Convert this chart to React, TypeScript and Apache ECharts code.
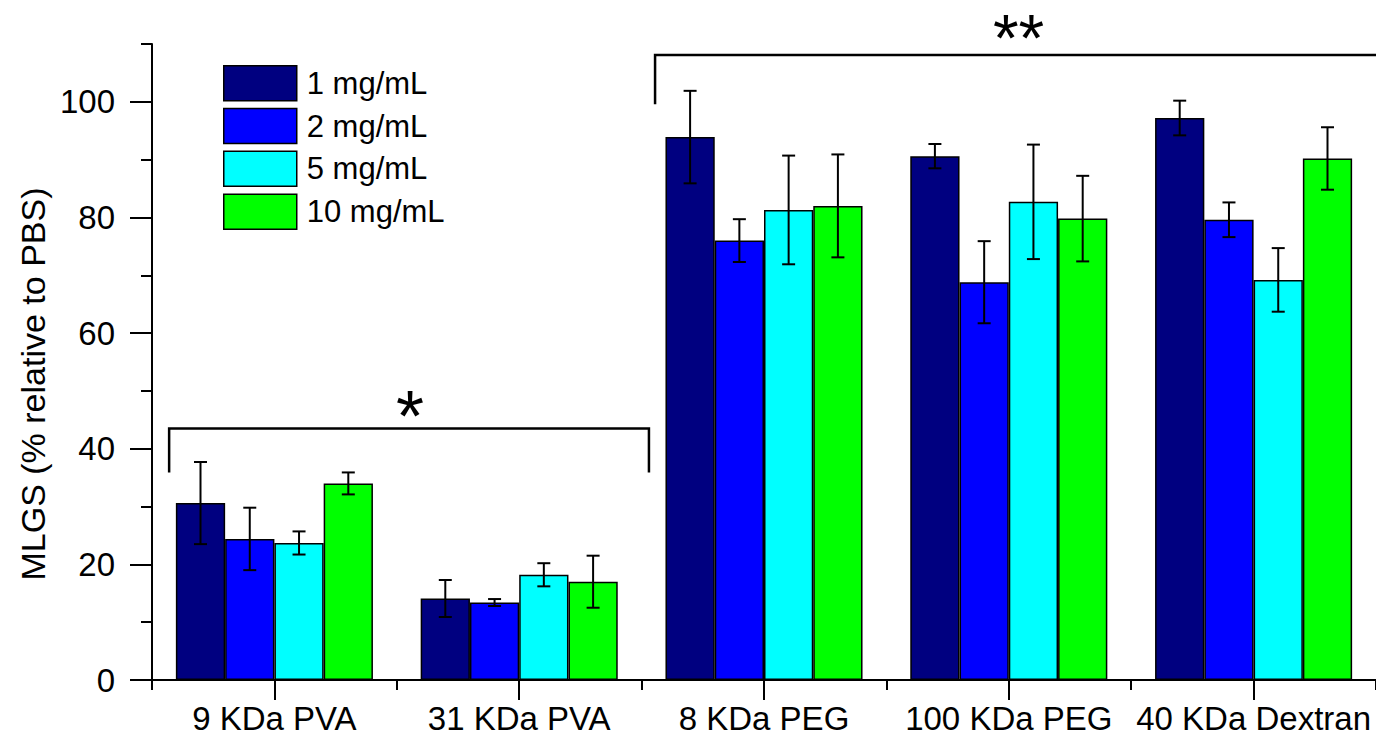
import React, { useEffect, useRef } from 'react';
import * as echarts from 'echarts';

const categories = ['9 KDa PVA', '31 KDa PVA', '8 KDa PEG', '100 KDa PEG', '40 KDa Dextran'];
const seriesNames = ['1 mg/mL', '2 mg/mL', '5 mg/mL', '10 mg/mL'];
const colors = ['#000080', '#0000FF', '#00FFFF', '#00FF00'];

const mean1 = [30.6, 14.1, 93.9, 90.6, 97.2];
const err1 = [7.1, 3.2, 8.0, 2.1, 3.0];
const mean2 = [24.4, 13.4, 76.0, 68.8, 79.6];
const err2 = [5.4, 0.6, 3.7, 7.1, 3.0];
const mean5 = [23.7, 18.2, 81.3, 82.7, 69.2];
const err5 = [2.0, 2.0, 9.4, 9.9, 5.5];
const mean10 = [34.0, 17.0, 82.0, 79.8, 90.2];
const err10 = [1.9, 4.5, 8.9, 7.4, 5.4];

const means = [mean1, mean2, mean5, mean10];
const errs = [err1, err2, err5, err10];

const yLabelValues = [0, 20, 40, 60, 80, 100];
const yMax = 110;
const yTitle = 'MLGS (% relative to PBS)';

// significance brackets: x in category units (relative to first category), y in data units
const bracketStar = { from: -0.43, to: 1.53, top: 43.5, leg: 35.9, label: '*', labelX: 0.554, labelY: 47.6, size: 72 };
const bracketDouble = { from: 1.555, to: 4.7, top: 108.1, leg: 99.6, label: '**', labelX: 3.04, labelY: 112.9, size: 66 };
const brackets = [bracketStar, bracketDouble];

const FONT = "'Liberation Sans', Arial, sans-serif";
const CAT_GAP = 0.195;

export default function App() {
  const ref = useRef<HTMLDivElement>(null);
  useEffect(() => {
    if (!ref.current) return;
    const chart = echarts.init(ref.current, null, { renderer: 'svg' });

    const barSeries = seriesNames.map((name, s) => ({
      type: 'bar',
      name,
      data: means[s],
      xAxisIndex: 0,
      yAxisIndex: 0,
      barGap: '0%',
      barCategoryGap: (CAT_GAP * 100) + '%',
      itemStyle: { color: colors[s], borderColor: '#000', borderWidth: 1.5 },
      z: 2,
    }));

    const errSeries = seriesNames.map((name, s) => ({
      type: 'custom',
      name: 'err ' + name,
      xAxisIndex: 0,
      yAxisIndex: 0,
      z: 5,
      data: means[s].map((m, i) => [i, m - errs[s][i], m + errs[s][i]]),
      encode: { x: 0, y: [1, 2] },
      renderItem: (params: any, api: any) => {
        const ci = api.value(0);
        const lo = api.value(1);
        const hi = api.value(2);
        const pLo = api.coord([ci, lo]);
        const pHi = api.coord([ci, hi]);
        const band = api.size([1, 0])[0];
        const bw = (band * (1 - CAT_GAP)) / 4;
        const x = pLo[0] + (s - 1.5) * bw;
        const cap = 6.5;
        const style = { stroke: '#000', lineWidth: 2 };
        return {
          type: 'group',
          children: [
            { type: 'line', shape: { x1: x, y1: pHi[1], x2: x, y2: pLo[1] }, style },
            { type: 'line', shape: { x1: x - cap, y1: pHi[1], x2: x + cap, y2: pHi[1] }, style },
            { type: 'line', shape: { x1: x - cap, y1: pLo[1], x2: x + cap, y2: pLo[1] }, style },
          ],
        };
      },
    }));

    const axisLineStyle = { color: '#000', width: 2 };

    chart.setOption({
      animation: false,
      backgroundColor: '#fff',
      textStyle: { fontFamily: FONT },
      grid: { left: 152, right: 0, top: 44, bottom: 59, containLabel: false },
      legend: {
        data: seriesNames,
        orient: 'vertical',
        left: 223,
        top: 65,
        padding: 0,
        itemWidth: 73,
        itemHeight: 35,
        itemGap: 6.3,
        icon: 'rect',
        itemStyle: { borderColor: '#000', borderWidth: 1.5 },
        textStyle: { fontSize: 31, color: '#000', fontFamily: FONT, padding: [0, 0, 0, 5] },
        selectedMode: false,
      },
      xAxis: [
        {
          type: 'category',
          data: categories,
          position: 'bottom',
          offset: 11,
          boundaryGap: true,
          axisLine: { show: true, lineStyle: axisLineStyle },
          axisTick: { show: true, length: 10, interval: 0, alignWithLabel: false, lineStyle: axisLineStyle },
          axisLabel: { interval: 0, color: '#000', fontSize: 33, fontFamily: FONT, margin: 11 },
          splitLine: { show: false },
        },
        {
          type: 'category',
          data: categories,
          position: 'bottom',
          offset: 11,
          boundaryGap: true,
          axisLine: { show: false },
          axisTick: { show: true, length: 20, interval: 0, alignWithLabel: true, lineStyle: axisLineStyle },
          axisLabel: { show: false },
          splitLine: { show: false },
        },
      ],
      yAxis: [
        {
          type: 'value',
          position: 'left',
          min: 0,
          max: yMax,
          interval: 10,
          axisLine: { show: true, lineStyle: axisLineStyle },
          axisTick: { show: true, length: 11, lineStyle: axisLineStyle },
          axisLabel: {
            color: '#000',
            fontSize: 33,
            fontFamily: FONT,
            margin: 37,
            formatter: (v: number) => (yLabelValues.includes(v) ? String(v) : ''),
          },
          splitLine: { show: false },
        },
        {
          type: 'value',
          position: 'left',
          min: 0,
          max: yMax,
          interval: 10,
          axisLine: { show: false },
          axisTick: { show: true, length: 22, customValues: yLabelValues, lineStyle: axisLineStyle },
          axisLabel: { show: false },
          splitLine: { show: false },
        },
      ],
      series: [...barSeries, ...errSeries],
    });

    // annotation brackets positioned through the axes
    const c0 = chart.convertToPixel({ xAxisIndex: 0 }, 0) as number;
    const c1 = chart.convertToPixel({ xAxisIndex: 0 }, 1) as number;
    const band = c1 - c0;
    const px = (u: number) => c0 + u * band;
    const py = (v: number) => chart.convertToPixel({ yAxisIndex: 0 }, v) as number;
    const graphics: any[] = [];
    brackets.forEach((b) => {
      graphics.push({
        type: 'polyline',
        shape: {
          points: [
            [px(b.from), py(b.leg)],
            [px(b.from), py(b.top)],
            [px(b.to), py(b.top)],
            [px(b.to), py(b.leg)],
          ],
        },
        style: { stroke: '#000', lineWidth: 2.5, fill: null },
        z: 10,
      });
      graphics.push({
        type: 'text',
        x: px(b.labelX),
        y: py(b.labelY) + b.size * 0.16,
        style: {
          text: b.label,
          font: `${b.size}px ${FONT}`,
          fill: '#000',
          textAlign: 'center',
          textVerticalAlign: 'middle',
        },
        z: 10,
      });
    });
    graphics.push({
      type: 'text',
      x: 33,
      y: 384,
      rotation: Math.PI / 2,
      style: {
        text: yTitle,
        font: `34px ${FONT}`,
        fill: '#000',
        textAlign: 'center',
        textVerticalAlign: 'middle',
      },
      z: 10,
    });
    chart.setOption({ graphic: graphics });

    return () => chart.dispose();
  }, []);

  return <div ref={ref} style={{ position: 'fixed', left: 0, top: 0, width: 1376, height: 739 }} />;
}
